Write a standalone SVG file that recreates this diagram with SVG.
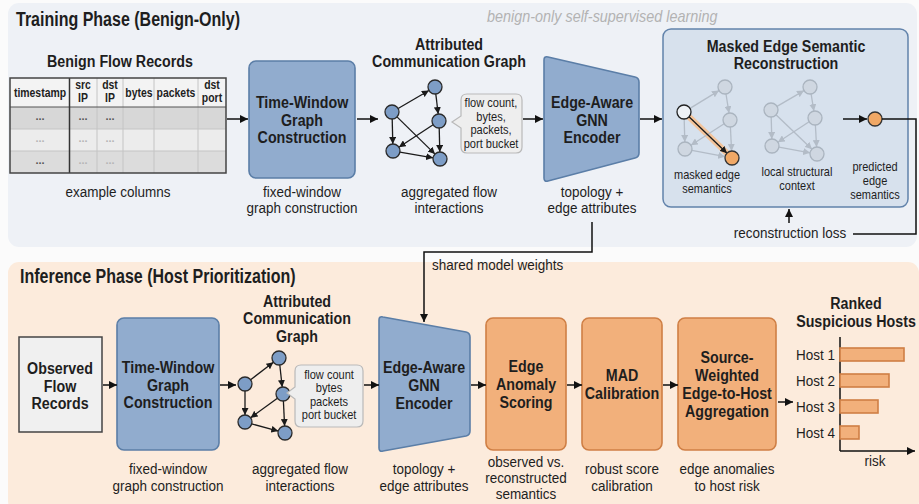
<svg xmlns="http://www.w3.org/2000/svg" width="919" height="504" viewBox="0 0 919 504">
<style>
text{font-family:"Liberation Sans",Arial,sans-serif;fill:#1e1e1e;transform-box:fill-box;transform-origin:center}
.t{font-size:20px;font-weight:bold;transform:scaleX(0.8);transform-origin:left center}
.b{font-size:17px;font-weight:bold;text-anchor:middle;transform:scaleX(0.84)}
.h{font-size:12px;font-weight:bold;text-anchor:middle;transform:scaleX(0.87)}
.r{font-size:14.5px;text-anchor:middle;transform:scaleX(0.93)}
.rl{font-size:14.5px;transform:scaleX(0.93);transform-origin:left center}
.s{font-size:13.5px;text-anchor:middle;transform:scaleX(0.82)}
.s2{font-size:13px;text-anchor:middle;transform:scaleX(0.85)}
.m{font-size:12.5px;text-anchor:middle;transform:scaleX(0.88)}
.host{font-size:15px;text-anchor:end;transform:scaleX(0.9);transform-origin:right center}
.it{font-size:16px;font-style:italic;fill:#b3b3b3;transform:scaleX(0.9);transform-origin:left center}
.dot{font-size:11px;font-weight:bold;text-anchor:middle}
.dk{fill:#555}.lt{fill:#b5b5b5}
.blue{fill:#91acce;stroke:#5b7ea7;stroke-width:1.6}
.orange{fill:#f2b07b;stroke:#cf7f45;stroke-width:1.6}
.conn{fill:none;stroke:#111;stroke-width:1.5}
.ge{fill:none;stroke:#1a1a1a;stroke-width:1.3;marker-end:url(#ahs)}
.gf{fill:none;stroke:#b3bcc7;stroke-width:1.3;marker-end:url(#ahg)}
.gn{fill:#7d9dc6;stroke:#2a2a2a;stroke-width:1.3}
.fn{fill:#cfd7e1;stroke:#aab4bf;stroke-width:1.3}
.call{fill:#eeeeee;stroke:#b9b9b9;stroke-width:1.2}
.cl{stroke:#c4c4c4;stroke-width:1}
</style>
<defs>
<marker id="ah" viewBox="0 0 10 10" refX="10" refY="5" markerUnits="userSpaceOnUse" markerWidth="8" markerHeight="8" orient="auto"><path d="M0,0 L10,5 L0,10 Z" fill="#111"/></marker>
<marker id="ahs" viewBox="0 0 10 10" refX="10" refY="5" markerUnits="userSpaceOnUse" markerWidth="7" markerHeight="7" orient="auto"><path d="M0,0 L10,5 L0,10 Z" fill="#1a1a1a"/></marker>
<marker id="ahg" viewBox="0 0 10 10" refX="10" refY="5" markerUnits="userSpaceOnUse" markerWidth="7" markerHeight="7" orient="auto"><path d="M0,0 L10,5 L0,10 Z" fill="#b3bcc7"/></marker>
</defs>

<rect width="919" height="504" fill="#fbfbfb"/>

<!-- panels -->
<g id="training-panel">
<rect x="8" y="3" width="909" height="244" rx="11" fill="#eef1f6"/>
<text class="t" x="16" y="26">Training Phase (Benign-Only)</text>
<text class="it" x="487" y="22">benign-only self-supervised learning</text>
</g>
<g id="inference-panel">
<rect x="8" y="262" width="911" height="250" rx="11" fill="#fcebdc"/>
<text class="t" x="20" y="283">Inference Phase (Host Prioritization)</text>
</g>

<!-- Benign flow records table -->
<g id="benign-flow-records">
<text class="b" x="120" y="67">Benign Flow Records</text>
<rect x="10" y="78" width="216" height="29" fill="#f3f3f3"/>
<rect x="10" y="107" width="216" height="22" fill="#d7d7d7"/>
<rect x="10" y="129" width="216" height="22" fill="#ececec"/>
<rect x="10" y="151" width="216" height="22" fill="#dcdcdc"/>
<g class="cl">
<line x1="97" y1="78" x2="97" y2="173"/><line x1="123" y1="78" x2="123" y2="173"/>
<line x1="154" y1="78" x2="154" y2="173"/><line x1="198" y1="78" x2="198" y2="173"/>
<line x1="10" y1="129" x2="226" y2="129"/><line x1="10" y1="151" x2="226" y2="151"/>
</g>
<line x1="10" y1="107" x2="226" y2="107" stroke="#555" stroke-width="1.2"/>
<line x1="69.5" y1="78" x2="69.5" y2="173" stroke="#333" stroke-width="1.5"/>
<rect x="10" y="78" width="216" height="95" fill="none" stroke="#444" stroke-width="1.5"/>
<text class="h" x="40" y="97">timestamp</text>
<text class="h" x="83" y="89.5">src</text><text class="h" x="83" y="102.5">IP</text>
<text class="h" x="110" y="89.5">dst</text><text class="h" x="110" y="102.5">IP</text>
<text class="h" x="139" y="97">bytes</text>
<text class="h" x="176" y="97">packets</text>
<text class="h" x="212" y="89.5">dst</text><text class="h" x="212" y="102.5">port</text>
<text class="dot dk" x="40" y="120">...</text><text class="dot dk" x="83" y="120">...</text><text class="dot dk" x="110" y="120">...</text>
<text class="dot lt" x="40" y="142">...</text><text class="dot lt" x="83" y="142">...</text><text class="dot lt" x="110" y="142">...</text>
<text class="dot dk" x="40" y="164">...</text><text class="dot lt" x="83" y="164">...</text><text class="dot lt" x="110" y="164">...</text>
<text class="r" x="118" y="197">example columns</text>
</g>

<g id="tw-graph-train">
<rect class="blue" x="249" y="61" width="106" height="117" rx="7"/>
<text class="b" x="302" y="108">Time-Window</text>
<text class="b" x="302" y="126">Graph</text>
<text class="b" x="302" y="143">Construction</text>
<text class="r" x="302" y="197">fixed-window</text>
<text class="r" x="302" y="213">graph construction</text>
</g>

<g id="attr-graph-train">
<text class="b" x="449" y="50">Attributed</text>
<text class="b" x="449" y="67">Communication Graph</text>
<line class="ge" x1="398.1" y1="108.5" x2="428.9" y2="90.5"/>
<line class="ge" x1="435.8" y1="94" x2="438.2" y2="114"/>
<line class="ge" x1="392.2" y1="119" x2="392.8" y2="144"/>
<line class="ge" x1="397" y1="116.9" x2="435" y2="154.1"/>
<line class="ge" x1="433.1" y1="124.8" x2="398.9" y2="147.2"/>
<line class="ge" x1="439.2" y1="128" x2="439.8" y2="152"/>
<line class="ge" x1="399.9" y1="152.2" x2="433.1" y2="157.8"/>
<circle class="gn" cx="392" cy="112" r="7"/>
<circle class="gn" cx="435" cy="87" r="7"/>
<circle class="gn" cx="439" cy="121" r="7"/>
<circle class="gn" cx="393" cy="151" r="7"/>
<circle class="gn" cx="440" cy="159" r="7"/>
<path class="call" d="M467 94 H516 Q522 94 522 100 V147 Q522 153 516 153 H467 Q461 153 461 147 V128 L452 122 L461 116 V100 Q461 94 467 94 Z"/>
<text class="s" x="491" y="107.5">flow count,</text>
<text class="s" x="491" y="121">bytes,</text>
<text class="s" x="491" y="134.5">packets,</text>
<text class="s" x="491" y="148">port bucket</text>
<text class="r" x="449" y="197">aggregated flow</text>
<text class="r" x="449" y="213">interactions</text>
</g>

<g id="encoder-train">
<path class="blue" stroke-linejoin="round" d="M544 60 Q544 56 548 57 L635 77 Q639 78 639 82 V153 Q639 157 635 158 L548 181 Q544 182 544 178 Z"/>
<text class="b" x="592" y="108">Edge-Aware</text>
<text class="b" x="592" y="126">GNN</text>
<text class="b" x="592" y="143">Encoder</text>
<text class="r" x="592" y="197">topology +</text>
<text class="r" x="592" y="213">edge attributes</text>
</g>

<g id="masked-reconstruction">
<rect x="663" y="29" width="245" height="178" rx="8" fill="#d7e1ed" stroke="#6283ab" stroke-width="1.5"/>
<text class="b" x="786" y="52">Masked Edge Semantic</text>
<text class="b" x="786" y="69">Reconstruction</text>
<!-- masked graph -->
<line x1="684" y1="112" x2="732" y2="158" stroke="#f4c49a" stroke-width="6" stroke-linecap="round"/>
<line class="gf" x1="690" y1="108.4" x2="719" y2="90.6"/>
<line class="gf" x1="726" y1="94" x2="729" y2="113.1"/>
<line class="gf" x1="684.2" y1="119" x2="684.8" y2="142"/>
<line class="gf" x1="724.1" y1="123.8" x2="690.9" y2="145.2"/>
<line class="gf" x1="730.4" y1="127" x2="731.6" y2="151"/>
<line class="gf" x1="691.9" y1="150.3" x2="725.1" y2="156.7"/>
<line class="ge" x1="689" y1="116.8" x2="727" y2="153.2"/>
<circle class="fn" cx="725" cy="87" r="7"/>
<circle class="fn" cx="730" cy="120" r="7"/>
<circle class="fn" cx="685" cy="149" r="7"/>
<circle cx="684" cy="112" r="7" fill="#eef2f7" stroke="#222" stroke-width="1.3"/>
<circle cx="732" cy="158" r="7" fill="#f0a866" stroke="#333" stroke-width="1.3"/>
<text class="m" x="707" y="179">masked edge</text>
<text class="m" x="707" y="193">semantics</text>
<!-- context graph -->
<line class="gf" x1="777" y1="106.4" x2="804" y2="90.6"/>
<line class="gf" x1="811.1" y1="93.9" x2="813.9" y2="111.1"/>
<line class="gf" x1="771.2" y1="117" x2="771.8" y2="139"/>
<line class="gf" x1="776" y1="114.8" x2="812" y2="149.2"/>
<line class="gf" x1="809.1" y1="121.8" x2="777.9" y2="142.2"/>
<line class="gf" x1="815.4" y1="125" x2="816.6" y2="147"/>
<line class="gf" x1="778.9" y1="147.2" x2="810.1" y2="152.8"/>
<circle class="fn" cx="771" cy="110" r="7"/>
<circle class="fn" cx="810" cy="87" r="7"/>
<circle class="fn" cx="815" cy="118" r="7"/>
<circle class="fn" cx="772" cy="146" r="7"/>
<circle class="fn" cx="817" cy="154" r="7"/>
<text class="m" x="797" y="176">local structural</text>
<text class="m" x="797" y="190">context</text>
<!-- predicted -->
<circle cx="875" cy="119" r="7" fill="#f0a866" stroke="#333" stroke-width="1.3"/>
<text class="m" x="875" y="171">predicted</text>
<text class="m" x="875" y="185">edge</text>
<text class="m" x="875" y="199">semantics</text>
</g>

<!-- inference -->
<g id="observed-flow-records">
<rect x="19" y="337" width="83" height="95" fill="#f0f0f0" stroke="#444" stroke-width="1.5"/>
<text class="b" x="60" y="374">Observed</text>
<text class="b" x="60" y="392">Flow</text>
<text class="b" x="60" y="409">Records</text>
</g>

<g id="tw-graph-infer">
<rect class="blue" x="117" y="318" width="102" height="132" rx="7"/>
<text class="b" x="168" y="373">Time-Window</text>
<text class="b" x="168" y="391">Graph</text>
<text class="b" x="168" y="408">Construction</text>
<text class="r" x="168" y="474">fixed-window</text>
<text class="r" x="168" y="491">graph construction</text>
</g>

<g id="attr-graph-infer">
<text class="b" x="297" y="307">Attributed</text>
<text class="b" x="297" y="324">Communication</text>
<text class="b" x="297" y="342">Graph</text>
<line class="ge" x1="250.6" y1="379.8" x2="273.4" y2="362.2"/>
<line class="ge" x1="279.8" y1="365" x2="282.2" y2="387"/>
<line class="ge" x1="245" y1="391" x2="245" y2="415"/>
<line class="ge" x1="277.4" y1="398.2" x2="250.6" y2="417.8"/>
<line class="ge" x1="283.4" y1="401" x2="284.6" y2="426"/>
<line class="ge" x1="251.7" y1="423.9" x2="278.3" y2="431.1"/>
<circle class="gn" cx="245" cy="384" r="7"/>
<circle class="gn" cx="279" cy="358" r="7"/>
<circle class="gn" cx="283" cy="394" r="7"/>
<circle class="gn" cx="245" cy="422" r="7"/>
<circle class="gn" cx="285" cy="433" r="7"/>
<path class="call" d="M301 365 H357 Q363 365 363 371 V421 Q363 427 357 427 H301 Q295 427 295 421 V399 L287 393 L295 387 V371 Q295 365 301 365 Z"/>
<text class="s2" x="329" y="379">flow count</text>
<text class="s2" x="329" y="392.5">bytes</text>
<text class="s2" x="329" y="406">packets</text>
<text class="s2" x="329" y="419.5">port bucket</text>
<text class="r" x="300" y="474">aggregated flow</text>
<text class="r" x="300" y="491">interactions</text>
</g>

<g id="encoder-infer">
<path class="blue" stroke-linejoin="round" d="M379 320 Q379 316 383 317 L466 332 Q470 333 470 337 V431 Q470 435 466 436 L383 451 Q379 452 379 448 Z"/>
<text class="b" x="424" y="373">Edge-Aware</text>
<text class="b" x="424" y="391">GNN</text>
<text class="b" x="424" y="409">Encoder</text>
<text class="r" x="424" y="474">topology +</text>
<text class="r" x="424" y="491">edge attributes</text>
</g>

<g id="edge-anomaly-scoring">
<rect class="orange" x="486" y="318" width="80" height="132" rx="7"/>
<text class="b" x="526" y="372">Edge</text>
<text class="b" x="526" y="390">Anomaly</text>
<text class="b" x="526" y="408">Scoring</text>
<text class="r" x="526" y="467">observed vs.</text>
<text class="r" x="526" y="483">reconstructed</text>
<text class="r" x="526" y="499">semantics</text>
</g>

<g id="mad-calibration">
<rect class="orange" x="582" y="318" width="80" height="132" rx="7"/>
<text class="b" x="622" y="381">MAD</text>
<text class="b" x="622" y="399">Calibration</text>
<text class="r" x="622" y="474">robust score</text>
<text class="r" x="622" y="491">calibration</text>
</g>

<g id="host-aggregation">
<rect class="orange" x="678" y="318" width="98" height="132" rx="7"/>
<text class="b" x="727" y="363">Source-</text>
<text class="b" x="727" y="381">Weighted</text>
<text class="b" x="727" y="399">Edge-to-Host</text>
<text class="b" x="727" y="417">Aggregation</text>
<text class="r" x="727" y="474">edge anomalies</text>
<text class="r" x="727" y="491">to host risk</text>
</g>

<g id="ranked-hosts">
<text class="b" x="856" y="309">Ranked</text>
<text class="b" x="856" y="327">Suspicious Hosts</text>
<line class="conn" x1="840" y1="337" x2="840" y2="451"/>
<line class="conn" x1="840" y1="451" x2="915" y2="451" marker-end="url(#ah)"/>
<rect class="orange" x="840" y="348" width="64" height="13"/>
<rect class="orange" x="840" y="374" width="49" height="13"/>
<rect class="orange" x="840" y="400" width="38" height="13"/>
<rect class="orange" x="840" y="426" width="19" height="13"/>
<text class="host" x="835" y="360">Host 1</text>
<text class="host" x="835" y="386">Host 2</text>
<text class="host" x="835" y="412">Host 3</text>
<text class="host" x="835" y="438">Host 4</text>
<text class="r" x="875" y="466">risk</text>
</g>

<!-- connectors -->
<g id="connectors">
<line class="conn" x1="227" y1="119" x2="248" y2="119" marker-end="url(#ah)"/>
<line class="conn" x1="357" y1="119" x2="378" y2="119" marker-end="url(#ah)"/>
<line class="conn" x1="523" y1="119" x2="543" y2="119" marker-end="url(#ah)"/>
<line class="conn" x1="640" y1="119" x2="662" y2="119" marker-end="url(#ah)"/>
<line class="conn" x1="843" y1="119" x2="867" y2="119" marker-end="url(#ah)"/>
<polyline class="conn" points="882,119 916,119 916,234 853,234"/>
<line class="conn" x1="789" y1="223" x2="789" y2="209" marker-end="url(#ah)"/>
<polyline class="conn" points="592,222 592,252 424,252 424,322" marker-end="url(#ah)"/>
<line class="conn" x1="103" y1="385" x2="117" y2="385" marker-end="url(#ah)"/>
<line class="conn" x1="220" y1="385" x2="236" y2="385" marker-end="url(#ah)"/>
<line class="conn" x1="364" y1="385" x2="379" y2="385" marker-end="url(#ah)"/>
<line class="conn" x1="471" y1="385" x2="486" y2="385" marker-end="url(#ah)"/>
<line class="conn" x1="567" y1="385" x2="582" y2="385" marker-end="url(#ah)"/>
<line class="conn" x1="663" y1="385" x2="678" y2="385" marker-end="url(#ah)"/>
<line class="conn" x1="778" y1="402" x2="793" y2="402" marker-end="url(#ah)"/>
<text class="rl" x="432" y="270">shared model weights</text>
<text class="r" x="790" y="238">reconstruction loss</text>
</g>
</svg>
